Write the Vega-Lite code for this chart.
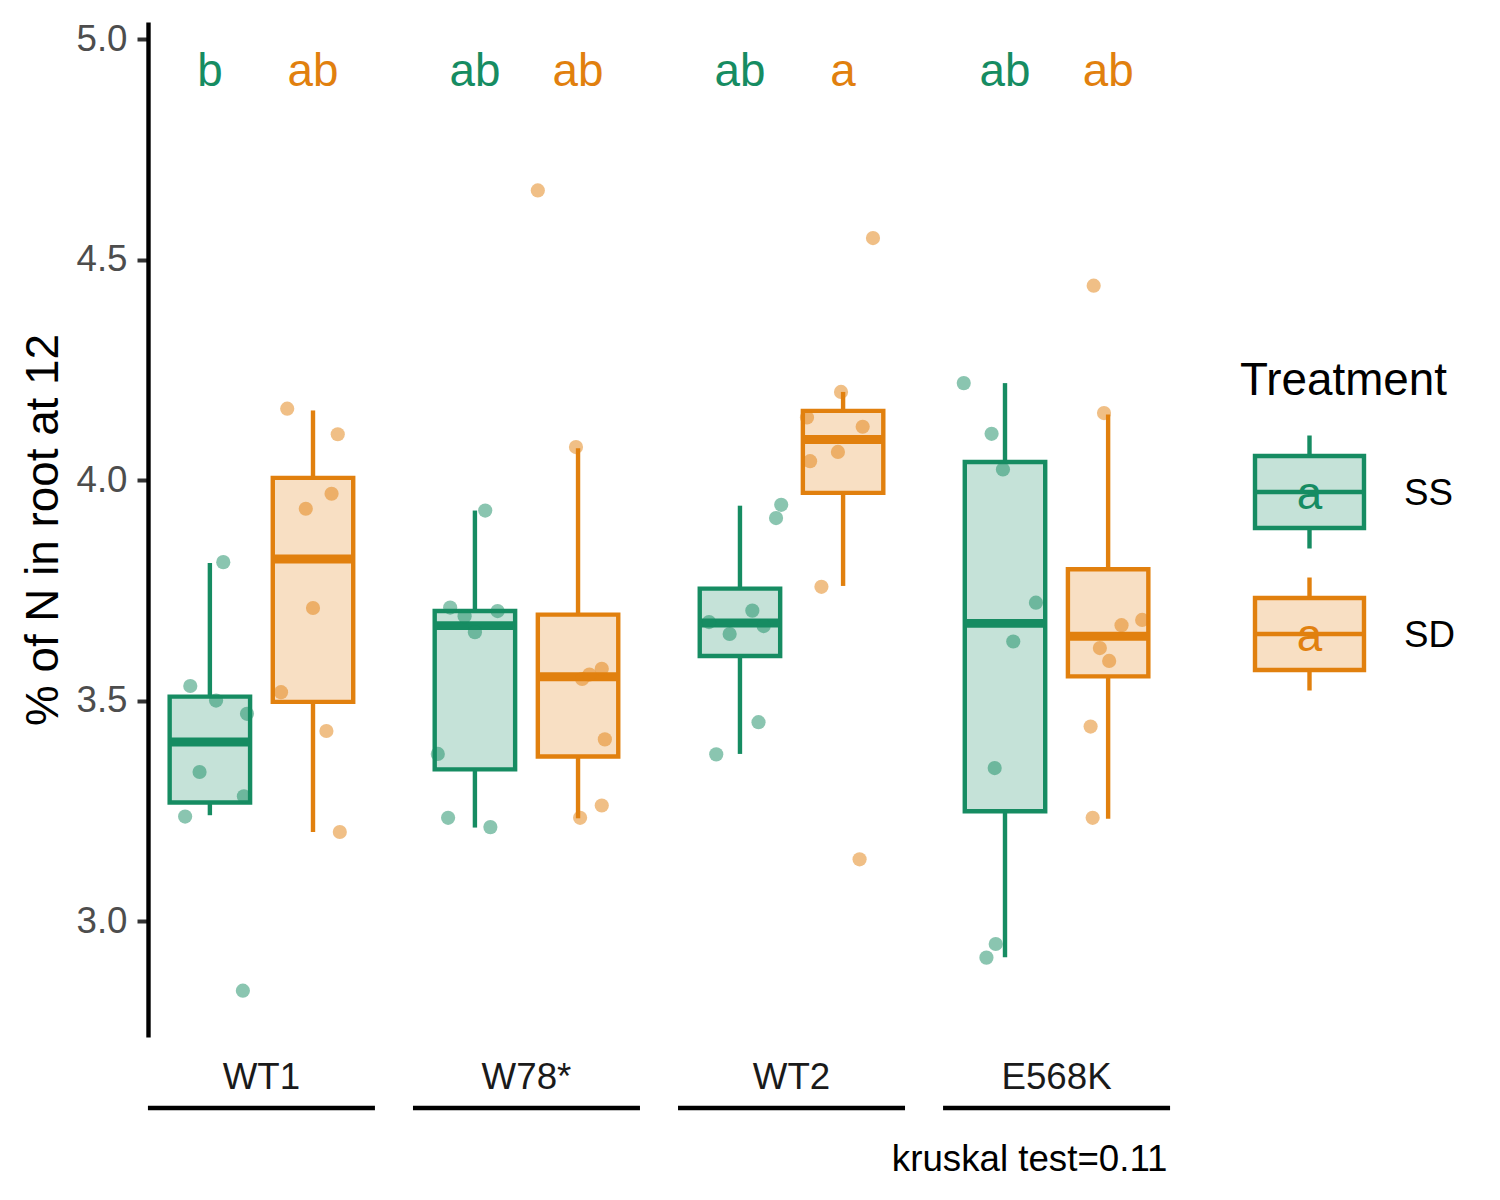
{
  "$schema": "https://vega.github.io/schema/vega-lite/v6.json",
  "padding": {"left": 20, "top": 21, "right": 5, "bottom": 5},
  "config": {
    "font": "Liberation Sans",
    "view": {"stroke": null}
  },
  "datasets": {
    "boxes": [
      {"group": "WT1", "treatment": "SS", "lower": 3.24, "q1": 3.269, "median": 3.406, "q3": 3.509, "upper": 3.812, "letter": "b"},
      {"group": "WT1", "treatment": "SD", "lower": 3.202, "q1": 3.497, "median": 3.821, "q3": 4.005, "upper": 4.158, "letter": "ab"},
      {"group": "W78*", "treatment": "SS", "lower": 3.212, "q1": 3.344, "median": 3.67, "q3": 3.703, "upper": 3.931, "letter": "ab"},
      {"group": "W78*", "treatment": "SD", "lower": 3.233, "q1": 3.373, "median": 3.554, "q3": 3.695, "upper": 4.072, "letter": "ab"},
      {"group": "WT2", "treatment": "SS", "lower": 3.379, "q1": 3.601, "median": 3.676, "q3": 3.754, "upper": 3.942, "letter": "ab"},
      {"group": "WT2", "treatment": "SD", "lower": 3.76, "q1": 3.971, "median": 4.092, "q3": 4.157, "upper": 4.2, "letter": "a"},
      {"group": "E568K", "treatment": "SS", "lower": 2.918, "q1": 3.249, "median": 3.675, "q3": 4.041, "upper": 4.22, "letter": "ab"},
      {"group": "E568K", "treatment": "SD", "lower": 3.232, "q1": 3.555, "median": 3.646, "q3": 3.798, "upper": 4.149, "letter": "ab"}
    ],
    "points": [
      {"group": "WT1", "treatment": "SS", "value": 3.814, "jitter": 0.13},
      {"group": "WT1", "treatment": "SS", "value": 3.533, "jitter": -0.19},
      {"group": "WT1", "treatment": "SS", "value": 3.5, "jitter": 0.06},
      {"group": "WT1", "treatment": "SS", "value": 3.47, "jitter": 0.36},
      {"group": "WT1", "treatment": "SS", "value": 3.338, "jitter": -0.1},
      {"group": "WT1", "treatment": "SS", "value": 3.283, "jitter": 0.33},
      {"group": "WT1", "treatment": "SS", "value": 3.237, "jitter": -0.24},
      {"group": "WT1", "treatment": "SS", "value": 2.842, "jitter": 0.32},
      {"group": "WT1", "treatment": "SD", "value": 4.162, "jitter": -0.25},
      {"group": "WT1", "treatment": "SD", "value": 4.104, "jitter": 0.24},
      {"group": "WT1", "treatment": "SD", "value": 3.969, "jitter": 0.18},
      {"group": "WT1", "treatment": "SD", "value": 3.935, "jitter": -0.07},
      {"group": "WT1", "treatment": "SD", "value": 3.71, "jitter": 0.0},
      {"group": "WT1", "treatment": "SD", "value": 3.519, "jitter": -0.31},
      {"group": "WT1", "treatment": "SD", "value": 3.431, "jitter": 0.13},
      {"group": "WT1", "treatment": "SD", "value": 3.202, "jitter": 0.26},
      {"group": "W78*", "treatment": "SS", "value": 3.931, "jitter": 0.1},
      {"group": "W78*", "treatment": "SS", "value": 3.711, "jitter": -0.24},
      {"group": "W78*", "treatment": "SS", "value": 3.691, "jitter": -0.1},
      {"group": "W78*", "treatment": "SS", "value": 3.703, "jitter": 0.22},
      {"group": "W78*", "treatment": "SS", "value": 3.655, "jitter": 0.0},
      {"group": "W78*", "treatment": "SS", "value": 3.379, "jitter": -0.36},
      {"group": "W78*", "treatment": "SS", "value": 3.234, "jitter": -0.26},
      {"group": "W78*", "treatment": "SS", "value": 3.213, "jitter": 0.15},
      {"group": "W78*", "treatment": "SD", "value": 4.657, "jitter": -0.39},
      {"group": "W78*", "treatment": "SD", "value": 4.075, "jitter": -0.02},
      {"group": "W78*", "treatment": "SD", "value": 3.549, "jitter": 0.04},
      {"group": "W78*", "treatment": "SD", "value": 3.559, "jitter": 0.11},
      {"group": "W78*", "treatment": "SD", "value": 3.572, "jitter": 0.23},
      {"group": "W78*", "treatment": "SD", "value": 3.412, "jitter": 0.26},
      {"group": "W78*", "treatment": "SD", "value": 3.262, "jitter": 0.23},
      {"group": "W78*", "treatment": "SD", "value": 3.234, "jitter": 0.02},
      {"group": "WT2", "treatment": "SS", "value": 3.944, "jitter": 0.4},
      {"group": "WT2", "treatment": "SS", "value": 3.914, "jitter": 0.35},
      {"group": "WT2", "treatment": "SS", "value": 3.704, "jitter": 0.12},
      {"group": "WT2", "treatment": "SS", "value": 3.678, "jitter": -0.3},
      {"group": "WT2", "treatment": "SS", "value": 3.651, "jitter": -0.1},
      {"group": "WT2", "treatment": "SS", "value": 3.669, "jitter": 0.23},
      {"group": "WT2", "treatment": "SS", "value": 3.451, "jitter": 0.18},
      {"group": "WT2", "treatment": "SS", "value": 3.378, "jitter": -0.23},
      {"group": "WT2", "treatment": "SD", "value": 4.549, "jitter": 0.29},
      {"group": "WT2", "treatment": "SD", "value": 4.2, "jitter": -0.02},
      {"group": "WT2", "treatment": "SD", "value": 4.142, "jitter": -0.35},
      {"group": "WT2", "treatment": "SD", "value": 4.121, "jitter": 0.19},
      {"group": "WT2", "treatment": "SD", "value": 4.064, "jitter": -0.05},
      {"group": "WT2", "treatment": "SD", "value": 4.043, "jitter": -0.32},
      {"group": "WT2", "treatment": "SD", "value": 3.758, "jitter": -0.21},
      {"group": "WT2", "treatment": "SD", "value": 3.14, "jitter": 0.16},
      {"group": "E568K", "treatment": "SS", "value": 4.22, "jitter": -0.4},
      {"group": "E568K", "treatment": "SS", "value": 4.105, "jitter": -0.13},
      {"group": "E568K", "treatment": "SS", "value": 4.024, "jitter": -0.02},
      {"group": "E568K", "treatment": "SS", "value": 3.722, "jitter": 0.3},
      {"group": "E568K", "treatment": "SS", "value": 3.634, "jitter": 0.08},
      {"group": "E568K", "treatment": "SS", "value": 3.347, "jitter": -0.1},
      {"group": "E568K", "treatment": "SS", "value": 2.948, "jitter": -0.09},
      {"group": "E568K", "treatment": "SS", "value": 2.917, "jitter": -0.18},
      {"group": "E568K", "treatment": "SD", "value": 4.441, "jitter": -0.14},
      {"group": "E568K", "treatment": "SD", "value": 4.152, "jitter": -0.04},
      {"group": "E568K", "treatment": "SD", "value": 3.683, "jitter": 0.33},
      {"group": "E568K", "treatment": "SD", "value": 3.671, "jitter": 0.13},
      {"group": "E568K", "treatment": "SD", "value": 3.619, "jitter": -0.08},
      {"group": "E568K", "treatment": "SD", "value": 3.59, "jitter": 0.01},
      {"group": "E568K", "treatment": "SD", "value": 3.441, "jitter": -0.17},
      {"group": "E568K", "treatment": "SD", "value": 3.234, "jitter": -0.15}
    ],
    "groups": [
      {"group": "WT1"}, {"group": "W78*"}, {"group": "WT2"}, {"group": "E568K"}
    ],
    "keys": [
      {"treatment": "SS", "letter": "a"},
      {"treatment": "SD", "letter": "a"}
    ]
  },
  "hconcat": [
    {
      "width": 1022,
      "height": 1015,
      "data": {"name": "boxes"},
      "encoding": {
        "x": {
          "field": "group",
          "type": "nominal",
          "scale": {"domain": ["WT1", "W78*", "WT2", "E568K"], "paddingInner": 0.144, "paddingOuter": 0},
          "axis": {
            "title": "kruskal test=0.11",
            "labelAngle": 0,
            "domain": false,
            "ticks": false,
            "tickSize": 0,
            "labelPadding": 22,
            "labelFontSize": 36.7,
            "labelColor": "#1A1A1A",
            "titleFontSize": 36.7,
            "titleFontWeight": "normal",
            "titleColor": "black",
            "titleX": 1019,
            "titleY": 133,
            "titleAlign": "right",
            "titleBaseline": "alphabetic"
          }
        }
      },
      "resolve": {"scale": {"xOffset": "independent"}},
      "layer": [
        {
          "mark": {"type": "rule", "strokeWidth": 4.4},
          "encoding": {
            "xOffset": {"field": "treatment", "type": "nominal", "scale": {"type": "band", "domain": ["SS", "SD"], "paddingInner": 0.22, "paddingOuter": 0.21}},
            "y": {
              "field": "q3",
              "type": "quantitative",
              "scale": {"domain": [2.737, 5.039], "nice": false, "zero": false},
              "axis": {
                "title": "% of N in root at 12",
                "values": [3, 3.5, 4, 4.5, 5],
                "format": ".1f",
                "grid": false,
                "domainColor": "black",
                "domainWidth": 4.4,
                "tickColor": "#333333",
                "tickWidth": 4,
                "tickSize": 11,
                "labelPadding": 10,
                "labelFontSize": 36.7,
                "labelColor": "#4D4D4D",
                "titleFontSize": 45.8,
                "titleFontWeight": "normal",
                "titleColor": "black",
                "titlePadding": 8
              }
            },
            "y2": {"field": "upper"},
            "color": {"field": "treatment", "type": "nominal", "scale": {"domain": ["SS", "SD"], "range": ["#168C62", "#E1800E"]}, "legend": null}
          }
        },
        {
          "mark": {"type": "rule", "strokeWidth": 4.4},
          "encoding": {
            "xOffset": {"field": "treatment", "type": "nominal", "scale": {"type": "band", "domain": ["SS", "SD"], "paddingInner": 0.22, "paddingOuter": 0.21}},
            "y": {"field": "lower", "type": "quantitative"},
            "y2": {"field": "q1"},
            "color": {"field": "treatment", "type": "nominal", "legend": null}
          }
        },
        {
          "mark": {"type": "bar", "strokeWidth": 4.4},
          "encoding": {
            "xOffset": {"field": "treatment", "type": "nominal", "scale": {"type": "band", "domain": ["SS", "SD"], "paddingInner": 0.22, "paddingOuter": 0.21}},
            "y": {"field": "q3", "type": "quantitative"},
            "y2": {"field": "q1"},
            "fill": {"field": "treatment", "type": "nominal", "scale": {"domain": ["SS", "SD"], "range": ["#C5E2D8", "#F8DFC3"]}, "legend": null},
            "stroke": {"field": "treatment", "type": "nominal", "scale": {"domain": ["SS", "SD"], "range": ["#168C62", "#E1800E"]}, "legend": null}
          }
        },
        {
          "mark": {"type": "tick", "size": 80, "thickness": 8.9, "opacity": 1},
          "encoding": {
            "xOffset": {"field": "treatment", "type": "nominal", "scale": {"type": "band", "domain": ["SS", "SD"], "paddingInner": 0.22, "paddingOuter": 0.21}},
            "y": {"field": "median", "type": "quantitative"},
            "color": {"field": "treatment", "type": "nominal", "legend": null}
          }
        },
        {
          "data": {"name": "points"},
          "transform": [{"filter": "datum.treatment === 'SS'"}],
          "mark": {"type": "circle", "size": 201, "opacity": 0.5},
          "encoding": {
            "xOffset": {"field": "jitter", "type": "quantitative", "scale": {"domain": [-0.6, 1.6], "nice": false, "zero": false}},
            "y": {"field": "value", "type": "quantitative"},
            "color": {"field": "treatment", "type": "nominal", "legend": null}
          }
        },
        {
          "data": {"name": "points"},
          "transform": [{"filter": "datum.treatment === 'SD'"}],
          "mark": {"type": "circle", "size": 201, "opacity": 0.5},
          "encoding": {
            "xOffset": {"field": "jitter", "type": "quantitative", "scale": {"domain": [-1.6, 0.6], "nice": false, "zero": false}},
            "y": {"field": "value", "type": "quantitative"},
            "color": {"field": "treatment", "type": "nominal", "legend": null}
          }
        },
        {
          "mark": {"type": "text", "fontSize": 45.8, "baseline": "alphabetic"},
          "encoding": {
            "xOffset": {"field": "treatment", "type": "nominal", "scale": {"type": "band", "domain": ["SS", "SD"], "paddingInner": 0.22, "paddingOuter": 0.21}},
            "y": {"datum": 4.893},
            "text": {"field": "letter"},
            "color": {"field": "treatment", "type": "nominal", "legend": null}
          }
        },
        {
          "data": {"name": "groups"},
          "mark": {"type": "tick", "size": 227, "thickness": 4.5, "color": "black", "opacity": 1},
          "encoding": {
            "y": {"datum": 2.576}
          }
        }
      ]
    },
    {
      "width": 109,
      "height": 1015,
      "data": {"name": "keys"},
      "title": {
        "text": "Treatment",
        "anchor": "start",
        "frame": "group",
        "fontSize": 45.8,
        "fontWeight": "normal",
        "color": "black",
        "baseline": "alphabetic",
        "dx": -15,
        "offset": -419
      },
      "encoding": {
        "x": {"datum": "key", "type": "nominal", "scale": {"paddingInner": 0, "paddingOuter": 0}, "axis": null},
        "y": {
          "field": "treatment",
          "type": "nominal",
          "scale": {"type": "band", "domain": ["SS", "SD"], "range": [434, 648], "paddingInner": 0.493, "paddingOuter": 0},
          "axis": null
        }
      },
      "layer": [
        {
          "mark": {"type": "tick", "orient": "vertical", "size": 113, "thickness": 4.4, "opacity": 1},
          "encoding": {
            "color": {"field": "treatment", "type": "nominal", "scale": {"domain": ["SS", "SD"], "range": ["#168C62", "#E1800E"]}, "legend": null}
          }
        },
        {
          "mark": {"type": "rect", "strokeWidth": 4.4},
          "encoding": {
            "fill": {"field": "treatment", "type": "nominal", "scale": {"domain": ["SS", "SD"], "range": ["#C5E2D8", "#F8DFC3"]}, "legend": null},
            "stroke": {"field": "treatment", "type": "nominal", "scale": {"domain": ["SS", "SD"], "range": ["#168C62", "#E1800E"]}, "legend": null}
          }
        },
        {
          "mark": {"type": "tick", "orient": "horizontal", "size": 109, "thickness": 4.4, "opacity": 1},
          "encoding": {
            "color": {"field": "treatment", "type": "nominal", "legend": null}
          }
        },
        {
          "mark": {"type": "text", "fontSize": 45.8, "baseline": "middle", "dy": 3},
          "encoding": {
            "text": {"field": "letter"},
            "color": {"field": "treatment", "type": "nominal", "legend": null}
          }
        },
        {
          "mark": {"type": "text", "fontSize": 36.7, "align": "left", "baseline": "middle", "dx": 94.5, "dy": 2, "color": "black"},
          "encoding": {
            "text": {"field": "treatment"}
          }
        }
      ]
    }
  ],
  "bounds": "flush",
  "spacing": 85
}
